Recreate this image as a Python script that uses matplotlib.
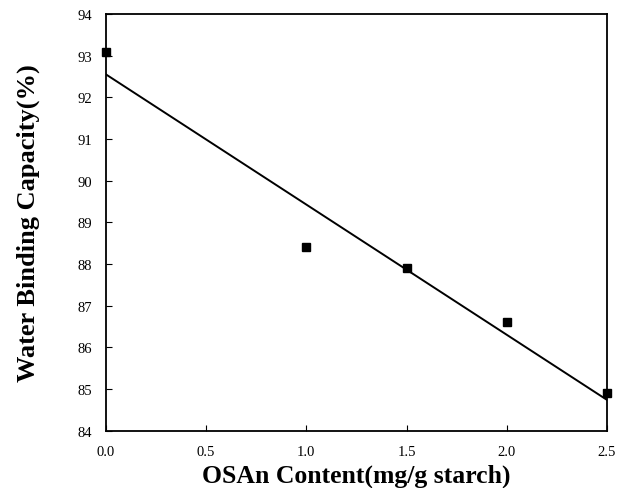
import numpy as np
import matplotlib
matplotlib.use("Agg")
import matplotlib.pyplot as plt

osan = [0.0, 1.0, 1.5, 2.0, 2.5]
wbc = [93.1, 88.4, 87.9, 86.6, 84.9]
xticks = [0.0, 0.5, 1.0, 1.5, 2.0, 2.5]
yticks = [84, 85, 86, 87, 88, 89, 90, 91, 92, 93, 94]

plt.rcParams['font.family'] = ['Liberation Serif', 'DejaVu Serif']

fig = plt.figure(figsize=(6.23, 4.89), dpi=100)
ax = fig.add_axes([0.1701, 0.117, 0.804, 0.852])

slope, intercept = np.polyfit(osan, wbc, 1)
xf = np.array([min(osan), max(osan)])
ax.plot(xf, slope * xf + intercept, color='black', lw=1.4)
ax.plot(osan, wbc, 's', color='black', ms=6, clip_on=False, zorder=5)

ax.set_xlim(0, 2.5)
ax.set_ylim(84, 94)
ax.set_xticks(xticks)
ax.set_xticklabels([f"{v:.1f}" for v in xticks])
ax.set_yticks(yticks)
ax.tick_params(direction='in', length=4, width=0.8, labelsize=10.5, colors='black')
ax.tick_params(axis='x', pad=10)
ax.tick_params(axis='y', pad=10)
for s in ax.spines.values():
    s.set_linewidth(1.3)

ax.set_xlabel('OSAn Content(mg/g starch)', fontsize=18.5, fontweight='bold', labelpad=4)
ax.set_ylabel('Water Binding Capacity(%)', fontsize=19, fontweight='bold', labelpad=27)

fig.savefig('out.png', dpi=100)
